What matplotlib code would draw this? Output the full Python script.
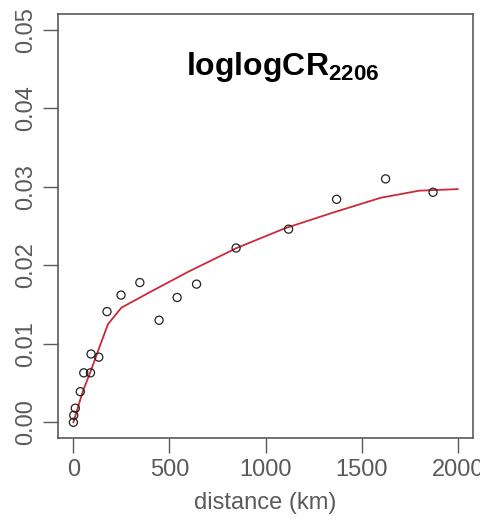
import matplotlib.pyplot as plt

plt.rcParams['font.family'] = ['Liberation Sans', 'DejaVu Sans']
plt.rcParams['mathtext.default'] = 'regular'

# observed points
dist_km = [0, 2, 10, 36, 54, 89, 92, 132, 175, 248, 346, 446, 540, 641,
           847, 1120, 1370, 1625, 1872]
value = [0.0000, 0.0009, 0.0018, 0.0039, 0.0063, 0.0063, 0.0087, 0.0083,
         0.0141, 0.0162, 0.0178, 0.0130, 0.0159, 0.0176,
         0.0222, 0.0246, 0.0284, 0.0310, 0.0293]

# fitted curve
fit_km = [0, 25, 50, 90, 130, 180, 250, 400, 600, 850, 1100, 1350, 1600,
          1800, 2000]
fit_val = [0.0000, 0.0020, 0.0040, 0.0065, 0.0092, 0.0125, 0.0146, 0.0166,
           0.0192, 0.0222, 0.0247, 0.0267, 0.0286, 0.0295, 0.0297]

x_ticks = [0, 500, 1000, 1500, 2000]
y_ticks = [0.00, 0.01, 0.02, 0.03, 0.04, 0.05]

grey = '#5a5a5a'

fig = plt.figure(figsize=(4.81, 5.23), dpi=100)
ax = fig.add_axes([0.1206, 0.1625, 0.8628, 0.8107])

ax.plot(fit_km, fit_val, color='#cc2a3a', lw=1.3, zorder=2)
ax.scatter(dist_km, value, s=34, facecolors='none', edgecolors='#222222',
           linewidths=0.9, zorder=3)

ax.set_xlim(-80, 2080)
ax.set_ylim(-0.002, 0.052)
ax.set_xticks(x_ticks)
ax.set_xticklabels([str(t) for t in x_ticks])
ax.set_yticks(y_ticks)
ax.set_yticklabels(['%.2f' % t for t in y_ticks], rotation=90, va='center')
ax.tick_params(axis='both', length=11, width=1, color=grey, labelcolor=grey,
               labelsize=17, pad=4)

for s in ax.spines.values():
    s.set_color(grey)
    s.set_linewidth(1.2)

ax.set_xlabel('distance (km)', fontsize=17, color=grey, labelpad=8)

ax.text(0.542, 0.875, 'loglogCR$_{2206}$', transform=ax.transAxes,
        ha='center', va='center', fontsize=23, fontweight='bold', color='black')

fig.savefig('out.png', dpi=100)
